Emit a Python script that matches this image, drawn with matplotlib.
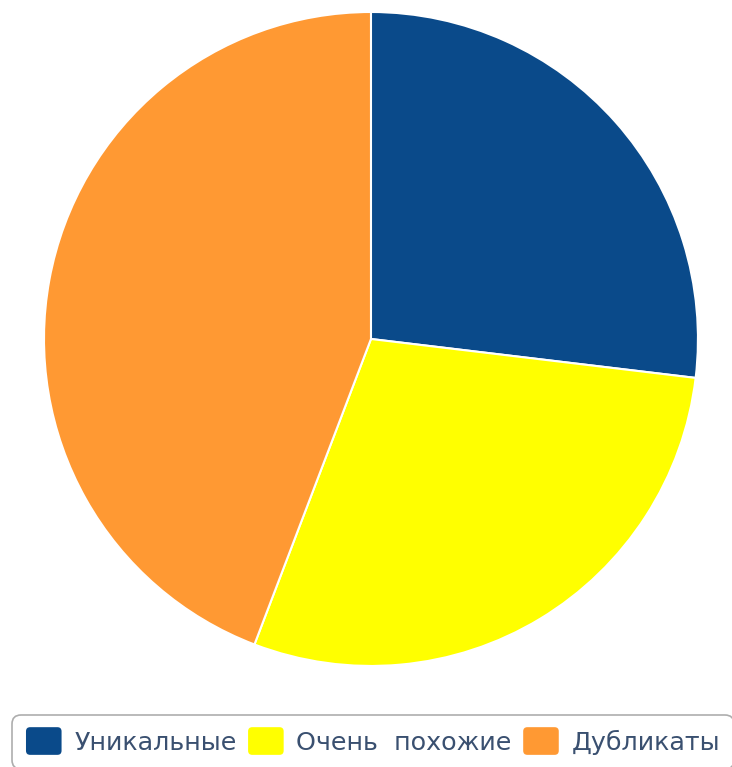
import matplotlib
matplotlib.use("Agg")
import matplotlib.pyplot as plt
from matplotlib.patches import FancyBboxPatch
from matplotlib.legend_handler import HandlerPatch

labels = ["Уникальные", "Очень  похожие", "Дубликаты"]
values = [26.9, 28.9, 44.2]
colors = ["#0a4a8a", "#ffff00", "#ff9933"]


class RoundBox(HandlerPatch):
    def create_artists(self, legend, orig_handle, xdescent, ydescent,
                       width, height, fontsize, trans):
        # taller rounded square, centred on the text row
        h = height * 1.15
        p = FancyBboxPatch((-xdescent, -ydescent - (h - height) / 2), width, h,
                           boxstyle="round,pad=0,rounding_size=3",
                           facecolor=orig_handle.get_facecolor(),
                           edgecolor="none", transform=trans)
        return [p]


fig = plt.figure(figsize=(7.32, 7.67), dpi=100)
ax = fig.add_axes([0.0601, 0.1317, 0.8934, 0.8527])

wedges, _ = ax.pie(values, colors=colors, startangle=90, counterclock=False,
                   wedgeprops=dict(edgecolor="white", linewidth=1.5))
ax.set_xlim(-1.0, 1.0)
ax.set_ylim(-1.0, 1.0)

leg = fig.legend(wedges, labels, loc="upper left",
                 bbox_to_anchor=(12 / 732, 1 - 715 / 767),
                 ncol=3, frameon=True, handlelength=1.4, handleheight=1.08,
                 handletextpad=0.5, columnspacing=0.45, borderpad=0.55,
                 borderaxespad=0,
                 prop=dict(family="DejaVu Sans", size=18.3),
                 handler_map={w: RoundBox() for w in wedges})
frame = leg.get_frame()
frame.set_edgecolor("#999999")
frame.set_linewidth(1.2)
frame.set_boxstyle("round,pad=0,rounding_size=0.35")
for t in leg.get_texts():
    t.set_color("#3a5070")

fig.savefig("out.png", dpi=100)
